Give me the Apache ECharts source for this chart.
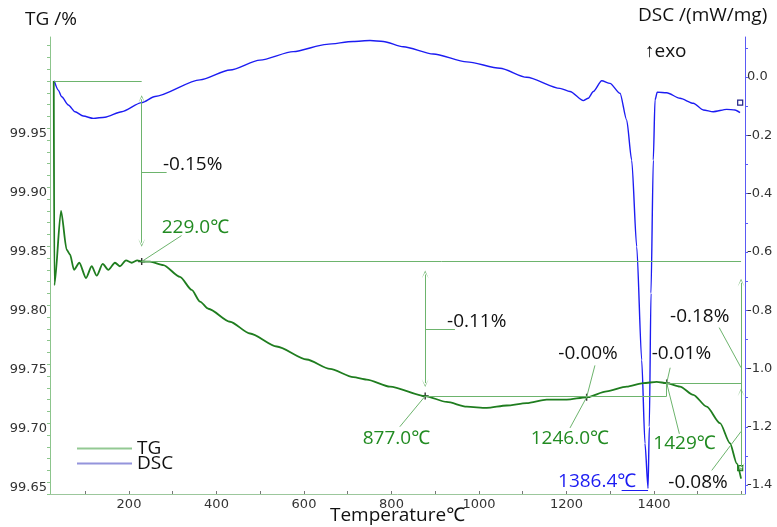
<!DOCTYPE html>
<html>
<head>
<meta charset="utf-8">
<script src="https://cdn.jsdelivr.net/npm/echarts@6/dist/echarts.min.js"></script>
<style>
  html, body { margin: 0; padding: 0; background: #fff; }
  #chart { width: 777px; height: 527px; }
</style>
</head>
<body>
<div id="chart"></div>
<script>
// TG curve (mass %, left axis)
const tgTemp = [28, 29.5, 44.6, 57.6, 65.1, 74.3, 86.4, 101.7, 114.7, 126.2,
  139.9, 152.7, 168, 179.4, 193.1, 206.2, 219, 229, 248, 278.4,
  316.6, 343.3, 362.3, 381.3, 430.9, 476.6, 537.6, 606.2, 659.4, 712.7,
  743.3, 796.6, 877, 926.2, 971.9, 1017.6, 1063.3, 1109, 1154.7, 1200.5,
  1246, 1291.9, 1337.6, 1375.5, 1406.2, 1429, 1459.4, 1489.8, 1520.5, 1550.9,
  1573.7, 1589, 1599];
const tgMass = [100.0, 99.827, 99.890, 99.857, 99.853, 99.840, 99.846, 99.833, 99.843, 99.835,
  99.845, 99.840, 99.846, 99.843, 99.848, 99.846, 99.848, 99.847, 99.847, 99.844,
  99.834, 99.823, 99.813, 99.807, 99.796, 99.786, 99.775, 99.764, 99.756, 99.749,
  99.747, 99.741, 99.733, 99.728, 99.724, 99.723, 99.725, 99.727, 99.730, 99.730,
  99.732, 99.737, 99.741, 99.744, 99.745, 99.744, 99.741, 99.734, 99.724, 99.710,
  99.693, 99.676, 99.663];

// DSC curve (mW/mg, right axis)
const dscTemp = [29, 38.4, 46.2, 61.3, 76.6, 95.5, 118.4, 145.1, 183.3, 229,
  259.4, 362.3, 430.9, 499.4, 575.5, 651.9, 712.7, 750.9, 781.3, 827,
  895.5, 971.9, 1048, 1109, 1185.1, 1208, 1238.4, 1249.8, 1261.3, 1280.5,
  1299.4, 1322.3, 1337.6, 1349, 1360.5, 1371.9, 1379.4, 1386.4, 1389.3, 1393.1,
  1398.4, 1402.3, 1407.5, 1429, 1459.4, 1489.8, 1512.7, 1535.5, 1566.2, 1585.1,
  1596.6];
const dscValue = [-0.013, -0.045, -0.068, -0.096, -0.119, -0.134, -0.142, -0.138, -0.119, -0.088,
  -0.067, -0.010, 0.024, 0.058, 0.087, 0.112, 0.122, 0.125, 0.122, 0.104,
  0.079, 0.052, 0.030, -0.001, -0.039, -0.050, -0.081, -0.073, -0.050, -0.013,
  -0.022, -0.056, -0.148, -0.285, -0.582, -0.971, -1.257, -1.411, -1.200, -0.742,
  -0.285, -0.079, -0.052, -0.054, -0.073, -0.090, -0.113, -0.119, -0.111, -0.113,
  -0.122];

// axis ticks
const xLabels = [200, 400, 600, 800, 1000, 1200, 1400];
const xTicks = [100, 200, 300, 400, 500, 600, 700, 800, 900, 1000, 1100, 1200, 1300, 1400, 1500, 1600];
const tgLabels = [99.65, 99.70, 99.75, 99.80, 99.85, 99.90, 99.95];
const dscLabels = [0.0, -0.2, -0.4, -0.6, -0.8, -1.0, -1.2, -1.4];

// TG evaluation: step points
const stepTemp = [229.0, 877.0, 1246.0, 1429.0];
const stepMass = [99.847, 99.733, 99.732, 99.744];

// TG evaluation lines [t1, m1, t2, m2]
const noteLines = [
  [29, 100.0, 229, 100.0],
  [229, 99.923, 286, 99.923],
  [229, 99.847, 1599, 99.847],
  [229, 99.847, 320, 99.869],
  [877, 99.790, 945, 99.790],
  [877, 99.733, 1429, 99.733],
  [1429, 99.733, 1429, 99.744],
  [1429, 99.744, 1599, 99.744],
  [877, 99.733, 819, 99.707],
  [1246, 99.732, 1265, 99.759],
  [1246, 99.732, 1208, 99.706],
  [1429, 99.744, 1437, 99.757],
  [1429, 99.744, 1458, 99.701],
  [1599, 99.757, 1549, 99.791],
  [1599, 99.703, 1532, 99.670]
];
const noteArrows = [
  [229, 99.9845, 229, 99.863],
  [877, 99.836, 877, 99.744],
  [1599, 99.829, 1599, 99.673],
  [1599, 99.736, 1599, 99.673]
];

// text labels, anchored at left-middle [t, mass]
const tempLabelText = ['229.0℃', '877.0℃', '1246.0℃', '1429℃'];
const tempLabelPos = [[274.7, 99.8754], [734.2, 99.697], [1118.2, 99.697], [1398.4, 99.6924]];
const lossLabelText = ['-0.15%', '-0.11%', '-0.00%', '-0.01%', '-0.18%', '-0.08%'];
const lossLabelPos = [[277.7, 99.9288], [926.9, 99.796], [1181.3, 99.7692], [1394.7, 99.7686], [1436.6, 99.800], [1432.7, 99.6596]];

// DSC peak
const peakText = '1386.4℃';
const peakLabelPos = [1180.6, -1.388];
const peakLine = [1326, -1.417, 1386.4, -1.417];

// curve end flags
const tgEndFlag = [1597, 99.672];
const dscEndFlag = [1597, -0.088];

const GREEN_DARK = '#1f7d1f';
const GREEN_NOTE = '#6db46d';
const GREEN_TEXT = '#228b22';
const BLUE = '#1c1cf2';
const FONT = '"Open Sans", "Noto Sans", sans-serif';
const TICK_FONT = '"DejaVu Sans", sans-serif';

const zip = (a, b) => a.map((v, i) => [v, b[i]]);
const range = (from, to, step) => {
  const out = [];
  for (let v = from; v <= to + step / 2; v += step) out.push(Math.round(v * 1000) / 1000);
  return out;
};

const arrowHead = 'path://M0,10 L5,0 L10,10 L5,2 Z';

const lineMarks = noteLines.map(([t1, m1, t2, m2]) => [
  { coord: [t1, m1], symbol: 'none' },
  { coord: [t2, m2], symbol: 'none' }
]);
const arrowMarks = noteArrows.map(([t1, m1, t2, m2]) => [
  { coord: [t1, m1], symbol: arrowHead },
  { coord: [t2, m2], symbol: arrowHead }
]);

function textSeries(name, yAxisIndex, points, texts, color) {
  return {
    name,
    type: 'scatter',
    yAxisIndex,
    silent: true,
    symbolSize: 0,
    itemStyle: { opacity: 1 },
    data: points.map((p, i) => ({ value: p, label: { formatter: texts[i] } })),
    label: {
      show: true,
      position: 'right',
      distance: 0,
      opacity: 1,
      color,
      fontSize: 19,
      fontFamily: FONT
    }
  };
}

function flagSeries(name, yAxisIndex, point, color) {
  return {
    name,
    type: 'scatter',
    yAxisIndex,
    silent: true,
    symbol: 'rect',
    symbolSize: 5,
    itemStyle: { color: '#fff', borderColor: color, borderWidth: 1.2, opacity: 1 },
    data: [point]
  };
}

const chart = echarts.init(document.getElementById('chart'), null, { renderer: 'canvas' });

chart.setOption({
  animation: false,
  backgroundColor: '#fff',
  grid: { left: 50, right: 32, top: 37, bottom: 33, containLabel: false, outerBoundsMode: 'none' },
  legend: {
    orient: 'vertical',
    left: 77,
    top: 439,
    padding: 0,
    itemWidth: 55,
    itemHeight: 2,
    itemGap: -4,
    icon: 'rect',
    data: [
      { name: 'TG', itemStyle: { color: '#93c993' } },
      { name: 'DSC', itemStyle: { color: '#9494dc' } }
    ],
    textStyle: { fontSize: 19, lineHeight: 16, color: '#111', fontFamily: FONT }
  },
  graphic: [
    { type: 'text', left: 25, top: 10, style: { text: 'TG /%', font: '19px ' + FONT, fill: '#111' } },
    { type: 'text', left: 638, top: 6, style: { text: 'DSC /(mW/mg)', font: '19px ' + FONT, fill: '#111' } },
    { type: 'text', left: 645, top: 42, style: { text: '↑exo', font: '19px ' + FONT, fill: '#111' } }
  ],
  xAxis: {
    type: 'value',
    min: 19.43,
    max: 1608,
    name: 'Temperature℃',
    nameLocation: 'middle',
    nameGap: 12,
    nameMoveOverlap: false,
    nameTextStyle: { fontSize: 19, color: '#111', fontFamily: FONT },
    axisLine: { onZero: false, lineStyle: { color: '#9cc79c' } },
    axisTick: { inside: true, length: 3, customValues: xTicks, lineStyle: { color: '#777' } },
    axisLabel: {
      customValues: xLabels,
      formatter: (v) => String(Math.round(v)),
      margin: 4,
      fontSize: 13,
      color: '#333',
      fontFamily: TICK_FONT
    },
    splitLine: { show: false }
  },
  yAxis: [
    {
      type: 'value',
      position: 'left',
      min: 99.65,
      max: 100.0373,
      axisLine: { show: true, lineStyle: { color: '#8cc58c' } },
      axisTick: { show: true, length: 3, customValues: range(99.65, 100.03, 0.01), lineStyle: { color: '#8cc58c' } },
      axisLabel: {
        customValues: tgLabels,
        formatter: (v) => v.toFixed(2),
        margin: 3,
        verticalAlign: 'bottom',
        lineHeight: 13,
        fontSize: 13,
        color: '#333',
        fontFamily: TICK_FONT
      },
      splitLine: { show: false }
    },
    {
      type: 'value',
      position: 'right',
      min: -1.4305,
      max: 0.1372,
      axisLine: { show: true, lineStyle: { color: '#5a5af5' } },
      axisTick: { show: true, length: 3, customValues: range(-1.4, 0.1, 0.1), lineStyle: { color: '#5a5af5' } },
      axisLabel: {
        customValues: dscLabels,
        formatter: (v) => v.toFixed(1),
        margin: 2,
        fontSize: 13,
        color: '#333',
        fontFamily: TICK_FONT
      },
      splitLine: { show: false }
    }
  ],
  series: [
    {
      name: 'DSC',
      type: 'line',
      yAxisIndex: 1,
      showSymbol: false,
      smooth: 0.25,
      smoothMonotone: 'x',
      lineStyle: { color: BLUE, width: 1.4 },
      itemStyle: { color: BLUE },
      data: zip(dscTemp, dscValue),
      markLine: {
        silent: true,
        symbol: 'none',
        label: { show: false },
        lineStyle: { color: BLUE, width: 1, type: 'solid' },
        data: [[{ coord: [peakLine[0], peakLine[1]] }, { coord: [peakLine[2], peakLine[3]] }]]
      }
    },
    {
      name: 'TG',
      type: 'line',
      yAxisIndex: 0,
      showSymbol: false,
      smooth: 0.25,
      smoothMonotone: 'x',
      lineStyle: { color: GREEN_DARK, width: 1.8 },
      itemStyle: { color: GREEN_DARK },
      data: zip(tgTemp, tgMass),
      markLine: {
        silent: true,
        symbolSize: [7, 8],
        label: { show: false },
        lineStyle: { color: GREEN_NOTE, width: 1, type: 'solid' },
        emphasis: { disabled: true },
        data: lineMarks.concat(arrowMarks)
      }
    },
    {
      name: 'steps',
      type: 'scatter',
      yAxisIndex: 0,
      silent: true,
      symbol: 'path://M4,0H6V4H10V6H6V10H4V6H0V4H4Z',
      symbolSize: 7,
      itemStyle: { color: '#333', opacity: 1 },
      data: zip(stepTemp, stepMass)
    },
    flagSeries('tgFlag', 0, tgEndFlag, GREEN_DARK),
    flagSeries('dscFlag', 1, dscEndFlag, '#222288'),
    textSeries('tempLabels', 0, tempLabelPos, tempLabelText, GREEN_TEXT),
    textSeries('lossLabels', 0, lossLabelPos, lossLabelText, '#111'),
    textSeries('peakLabel', 1, [peakLabelPos], [peakText], BLUE)
  ]
});
</script>
</body>
</html>
